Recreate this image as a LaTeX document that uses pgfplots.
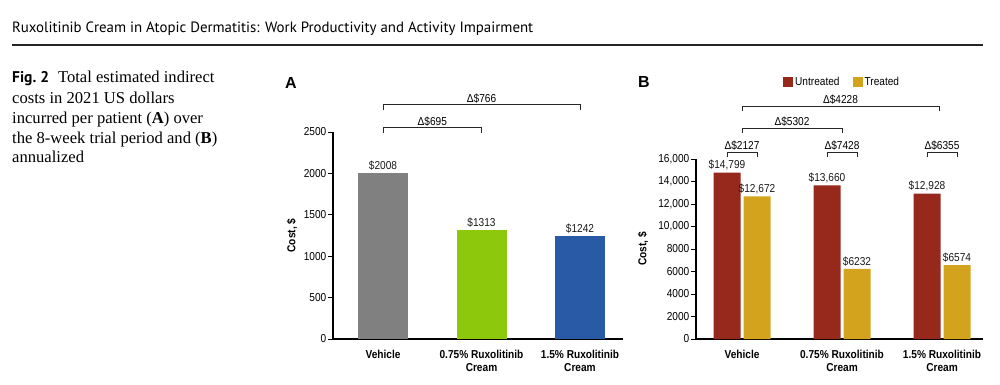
\documentclass[border=0pt]{standalone}
\usepackage{fontspec}
\setmainfont{Liberation Sans}
\newfontfamily\chartfam{Liberation Sans}[FakeStretch=0.88]
\newfontfamily\serifcap{Liberation Serif}
\newfontfamily\hdrfont{PT Sans}
\usepackage{pgfplots}
\pgfplotsset{compat=1.18}
\definecolor{cgray}{RGB}{128,128,128}
\definecolor{cgreen}{RGB}{141,200,12}
\definecolor{cblue}{RGB}{40,90,165}
\definecolor{cred}{RGB}{150,40,28}
\definecolor{cgold}{RGB}{212,163,30}
\definecolor{brk}{RGB}{40,40,40}
\newcommand{\chartfont}{\chartfam\fontsize{11.5}{12.5}\selectfont}
\tikzset{
  bracket/.style={draw=brk, line width=0.9pt},
  blabel/.style={font=\chartfont, anchor=south, inner sep=1.8pt},
}
\pgfplotsset{
  panel/.style={
    scale only axis, clip=false,
    axis x line*=bottom, axis y line*=left,
    axis line style={-, line width=1.2pt, black},
    tick align=outside, major tick length=5pt,
    y tick style={line width=0.9pt, black},
    x tick style={draw=none},
    scaled y ticks=false,
    xtick={0,1,2},
    xticklabels={Vehicle,{0.75\% Ruxolitinib\\Cream},{1.5\% Ruxolitinib\\Cream}},
    xticklabel style={font=\bfseries\chartfont, align=center, yshift=-3pt},
    yticklabel style={font=\chartfont, inner xsep=1.5pt},
    ylabel style={font=\bfseries\chartfont, anchor=center},
    ymin=0,
  },
  valbar/.style={ybar, draw=none, fill=#1, nodes near coords, point meta=explicit symbolic,
    nodes near coords style={font=\chartfont, text=black!90, inner sep=2.5pt}},
}
\begin{document}
\begin{tikzpicture}
\path[use as bounding box] (0pt,0pt) rectangle (1000pt,-385pt);
% page header
\node[anchor=base west, inner sep=0pt] at (12pt,-32.7pt)
  {\resizebox{521pt}{!}{\hdrfont Ruxolitinib Cream in Atopic Dermatitis: Work Productivity and Activity Impairment}};
\draw[line width=1.5pt, black!85] (12pt,-45pt) -- (983pt,-45pt);
% caption
\begin{scope}[every node/.style={anchor=base west, inner sep=0pt, font=\serifcap\fontsize{16.6}{20}\selectfont}]
\node at (12pt,-83pt) {{\hdrfont\bfseries\fontsize{15.5}{18}\selectfont Fig.~2}\hspace{9pt}Total estimated indirect};
\node at (12pt,-103pt) {costs in 2021 US dollars};
\node at (12pt,-123pt) {incurred per patient (\textbf{A}) over};
\node at (12pt,-143pt) {the 8-week trial period and (\textbf{B})};
\node at (12pt,-162pt) {annualized};
\end{scope}
% panel letters
\node[font=\bfseries\fontsize{16}{16}\selectfont, inner sep=0pt] at (291pt,-82.5pt) {A};
\node[font=\bfseries\fontsize{16}{16}\selectfont, inner sep=0pt] at (644pt,-82pt) {B};

% ---------------- Panel A ----------------
\begin{axis}[panel,
  at={(333pt,-339pt)}, anchor=south west,
  width=290pt, height=207pt,
  xmin=-0.508, xmax=2.437, ymax=2500,
  ytick={0,500,1000,1500,2000,2500},
  yticklabels={0,500,1000,1500,2000,2500},
  ylabel={Cost, \$},
  ylabel style={at={(axis description cs:-0.1414,0.5)}},
]
\addplot[valbar=cgray, bar width=50pt, bar shift=0pt] coordinates {(0,2008) [\$2008]};
\addplot[valbar=cgreen, bar width=50pt, bar shift=0pt] coordinates {(1,1313) [\$1313]};
\addplot[valbar=cblue, bar width=50pt, bar shift=0pt] coordinates {(2,1242) [\$1242]};
% comparison brackets
\draw[bracket] ([yshift=-5pt]axis cs:0,2549) -- (axis cs:0,2549) -- (axis cs:1,2549) -- ([yshift=-5pt]axis cs:1,2549);
\node[blabel] at (axis cs:0.5,2549) {Δ\$695};
\draw[bracket] ([yshift=-5pt]axis cs:0,2827) -- (axis cs:0,2827) -- (axis cs:2,2827) -- ([yshift=-5pt]axis cs:2,2827);
\node[blabel] at (axis cs:1,2827) {Δ\$766};
\end{axis}

% ---------------- Panel B ----------------
\begin{axis}[panel,
  at={(696pt,-339pt)}, anchor=south west,
  width=287pt, height=180pt,
  xmin=-0.46, xmax=2.41, ymax=16000,
  ytick={0,2000,4000,6000,8000,10000,12000,14000,16000},
  yticklabels={0,2000,4000,6000,8000,{10,000},{12,000},{14,000},{16,000}},
  ylabel={Cost, \$},
  ylabel style={at={(axis description cs:-0.1847,0.5)}},
  legend columns=2,
  legend style={at={(axis description cs:0.303,1.428)}, anchor=west, draw=none, fill=none,
    inner sep=0pt, font=\chartfont,
    /tikz/every even column/.append style={column sep=11pt}},
]
\addplot[valbar=cred, bar width=27pt, bar shift=-15pt,
  nodes near coords style={xshift=-15pt},
  legend image code/.code={\fill[cred] (0pt,-5pt) rectangle (10pt,5pt);}]
  coordinates {(0,14799) [{\$14,799}] (1,13660) [{\$13,660}] (2,12928) [{\$12,928}]};
\addlegendentry{Untreated}
\addplot[valbar=cgold, bar width=27pt, bar shift=15pt,
  nodes near coords style={xshift=15pt},
  legend image code/.code={\fill[cgold] (0pt,-5pt) rectangle (10pt,5pt);}]
  coordinates {(0,12672) [{\$12,672}] (1,6232) [\$6232] (2,6574) [\$6574]};
\addlegendentry{Treated}
% within-group brackets
\draw[bracket] ([yshift=-5pt]axis cs:-0.15,16622) -- (axis cs:-0.15,16622) -- (axis cs:0.15,16622) -- ([yshift=-5pt]axis cs:0.15,16622);
\node[blabel] at (axis cs:0,16622) {Δ\$2127};
\draw[bracket] ([yshift=-5pt]axis cs:0.85,16622) -- (axis cs:0.85,16622) -- (axis cs:1.15,16622) -- ([yshift=-5pt]axis cs:1.15,16622);
\node[blabel] at (axis cs:1,16622) {Δ\$7428};
\draw[bracket] ([yshift=-5pt]axis cs:1.85,16622) -- (axis cs:1.85,16622) -- (axis cs:2.15,16622) -- ([yshift=-5pt]axis cs:2.15,16622);
\node[blabel] at (axis cs:2,16622) {Δ\$6355};
% between-group brackets
\draw[bracket] ([yshift=-5pt]axis cs:0,18756) -- (axis cs:0,18756) -- (axis cs:1,18756) -- ([yshift=-5pt]axis cs:1,18756);
\node[blabel] at (axis cs:0.5,18756) {Δ\$5302};
\draw[bracket] ([yshift=-5pt]axis cs:0,20711) -- (axis cs:0,20711) -- (axis cs:1.97,20711) -- ([yshift=-5pt]axis cs:1.97,20711);
\node[blabel] at (axis cs:0.985,20711) {Δ\$4228};
\end{axis}
\end{tikzpicture}
\end{document}
